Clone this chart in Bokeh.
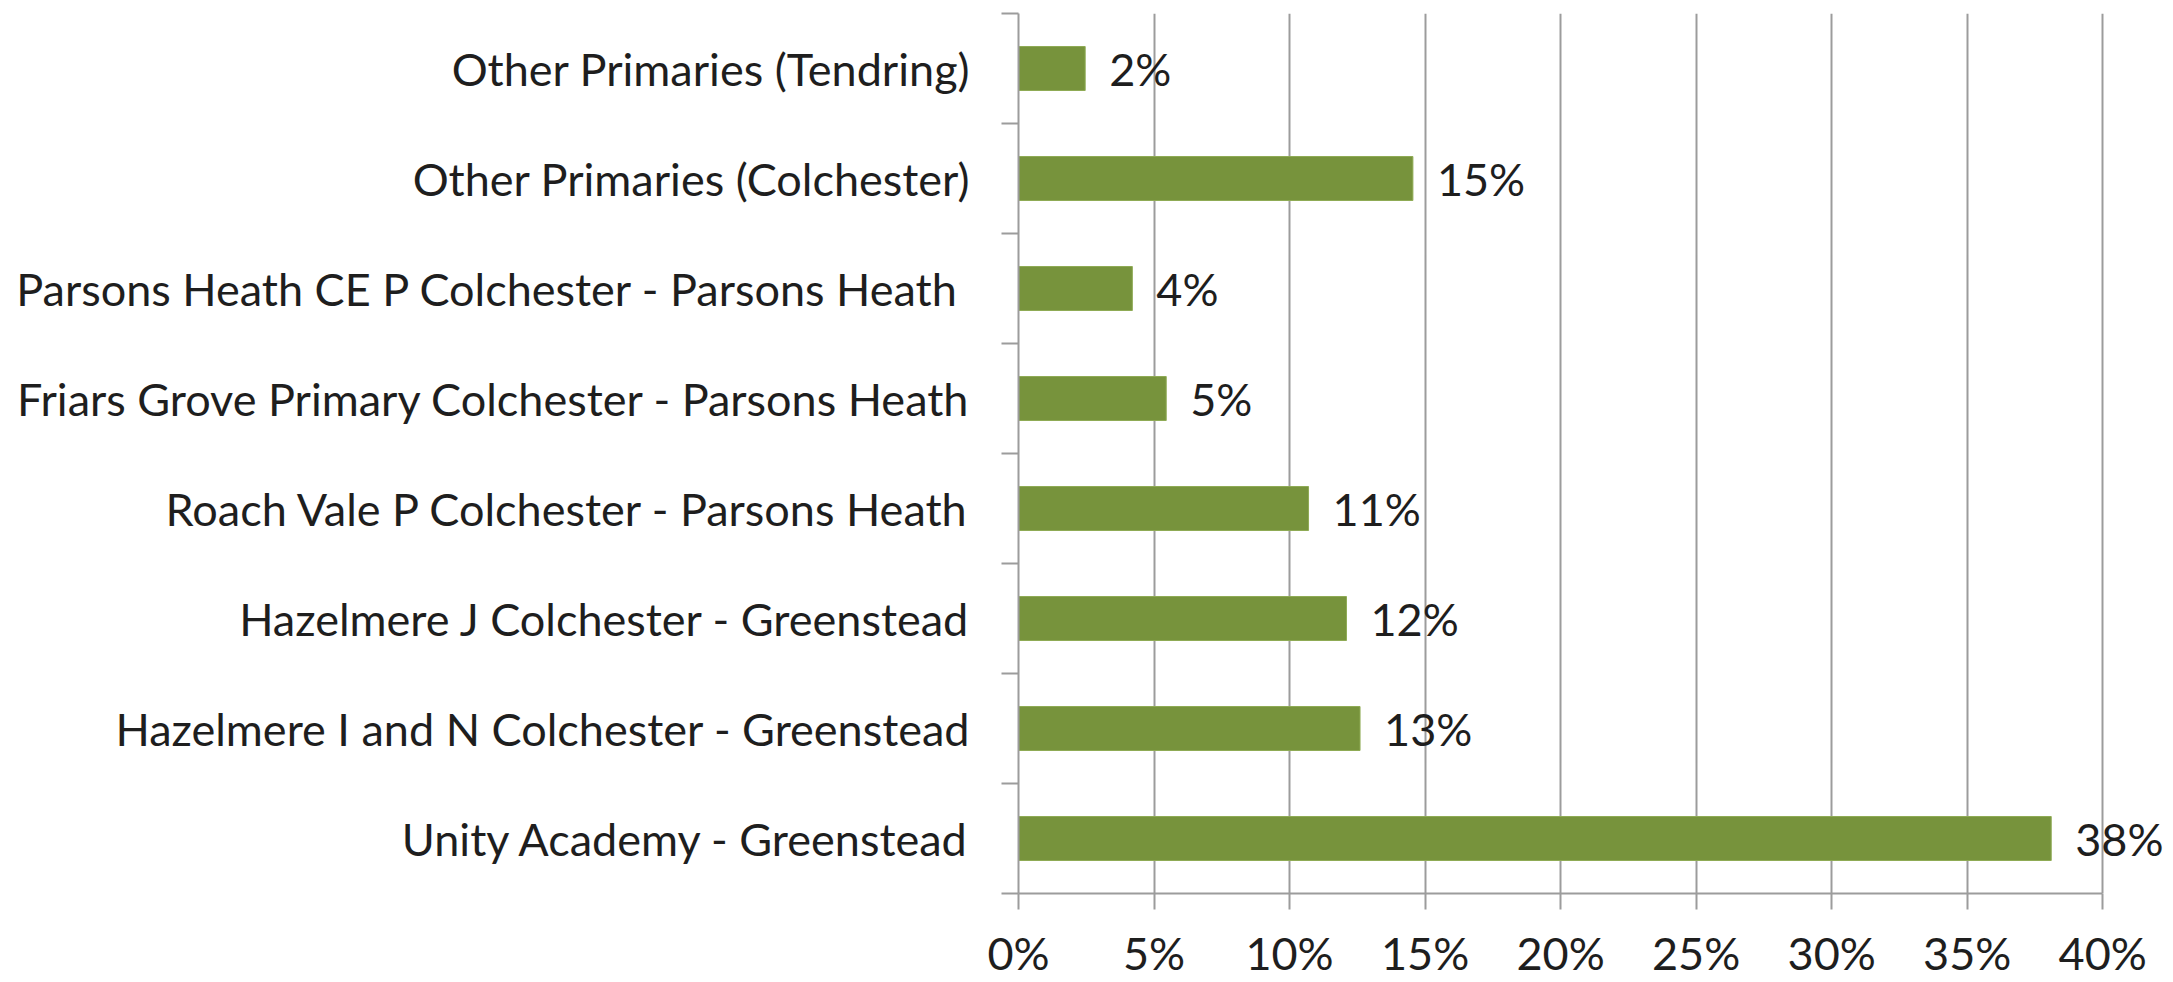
from bokeh.plotting import figure
from bokeh.models import Range1d, FixedTicker, ColumnDataSource, LabelSet
from bokeh.core.properties import value
from bokeh.embed import file_html
from bokeh.resources import INLINE

# ---- data (bottom to top) ----
categories = [
    "Unity Academy - Greenstead",
    "Hazelmere I and N Colchester - Greenstead",
    "Hazelmere J Colchester - Greenstead",
    "Roach Vale P Colchester - Parsons Heath",
    "Friars Grove Primary Colchester - Parsons Heath",
    "Parsons Heath CE  P Colchester - Parsons Heath",
    "Other Primaries (Colchester)",
    "Other Primaries (Tendring)",
]
values = [38.1, 12.6, 12.1, 10.7, 5.45, 4.2, 14.55, 2.46]
x_ticks = [0, 5, 10, 15, 20, 25, 30, 35, 40]
x_tick_labels = ["0%", "5%", "10%", "15%", "20%", "25%", "30%", "35%", "40%"]

FONT = "Lato"
FS = "45px"
GRID = "#9c9c9c"
BAR = "#77933C"
TXT = "#1e1e1e"

pos = [i + 0.5 for i in range(len(categories))]
labels = ["%d%%" % int(v + 0.5) for v in values]
src = ColumnDataSource(dict(y=pos, v=values, lab=labels, cat=categories))

p = figure(width=2173, height=982, output_backend="svg", toolbar_location=None,
           x_range=Range1d(0, 42.5), y_range=Range1d(0, len(categories)),
           min_border_left=1018, min_border_right=3, min_border_top=13,
           min_border_bottom=87)
p.outline_line_color = None
p.background_fill_color = "white"
p.border_fill_color = "white"

p.hbar(y="y", right="v", left=0, height=0.4, source=src,
       fill_color=BAR, line_color="#8fab55", line_width=1)

lbl = LabelSet(x="v", y="y", text="lab", source=src, x_offset=24,
               text_baseline="middle", text_align="left",
               text_font=value(FONT), text_font_size=FS, text_color=TXT)
p.add_layout(lbl)

# x axis
p.xaxis.ticker = FixedTicker(ticks=x_ticks)
p.xaxis.bounds = (0, 40)
p.xaxis.major_label_overrides = {t: l for t, l in zip(x_ticks, x_tick_labels)}
p.xaxis.major_tick_out = 16
p.xaxis.major_tick_in = 0
p.xaxis.major_tick_line_color = GRID
p.xaxis.major_tick_line_width = 2
p.xaxis.minor_tick_line_color = None
p.xaxis.axis_line_color = GRID
p.xaxis.axis_line_width = 2
p.xaxis.major_label_standoff = 16
p.xaxis.major_label_text_font = FONT
p.xaxis.major_label_text_font_size = FS
p.xaxis.major_label_text_color = TXT

# y axis
p.yaxis.ticker = FixedTicker(ticks=pos, minor_ticks=list(range(len(categories) + 1)))
p.yaxis.major_label_overrides = {y: c for y, c in zip(pos, categories)}
p.yaxis.major_tick_line_color = None
p.yaxis.major_tick_out = 0
p.yaxis.major_tick_in = 0
p.yaxis.minor_tick_out = 17
p.yaxis.minor_tick_in = 0
p.yaxis.minor_tick_line_color = GRID
p.yaxis.minor_tick_line_width = 2
p.yaxis.axis_line_color = GRID
p.yaxis.axis_line_width = 2
p.yaxis.major_label_standoff = 31
p.yaxis.major_label_text_font = FONT
p.yaxis.major_label_text_font_size = FS
p.yaxis.major_label_text_color = TXT

p.xgrid.ticker = FixedTicker(ticks=x_ticks)
p.xgrid.grid_line_color = GRID
p.xgrid.grid_line_width = 2
p.ygrid.grid_line_color = None

open("out.html", "w").write(file_html(p, INLINE))
